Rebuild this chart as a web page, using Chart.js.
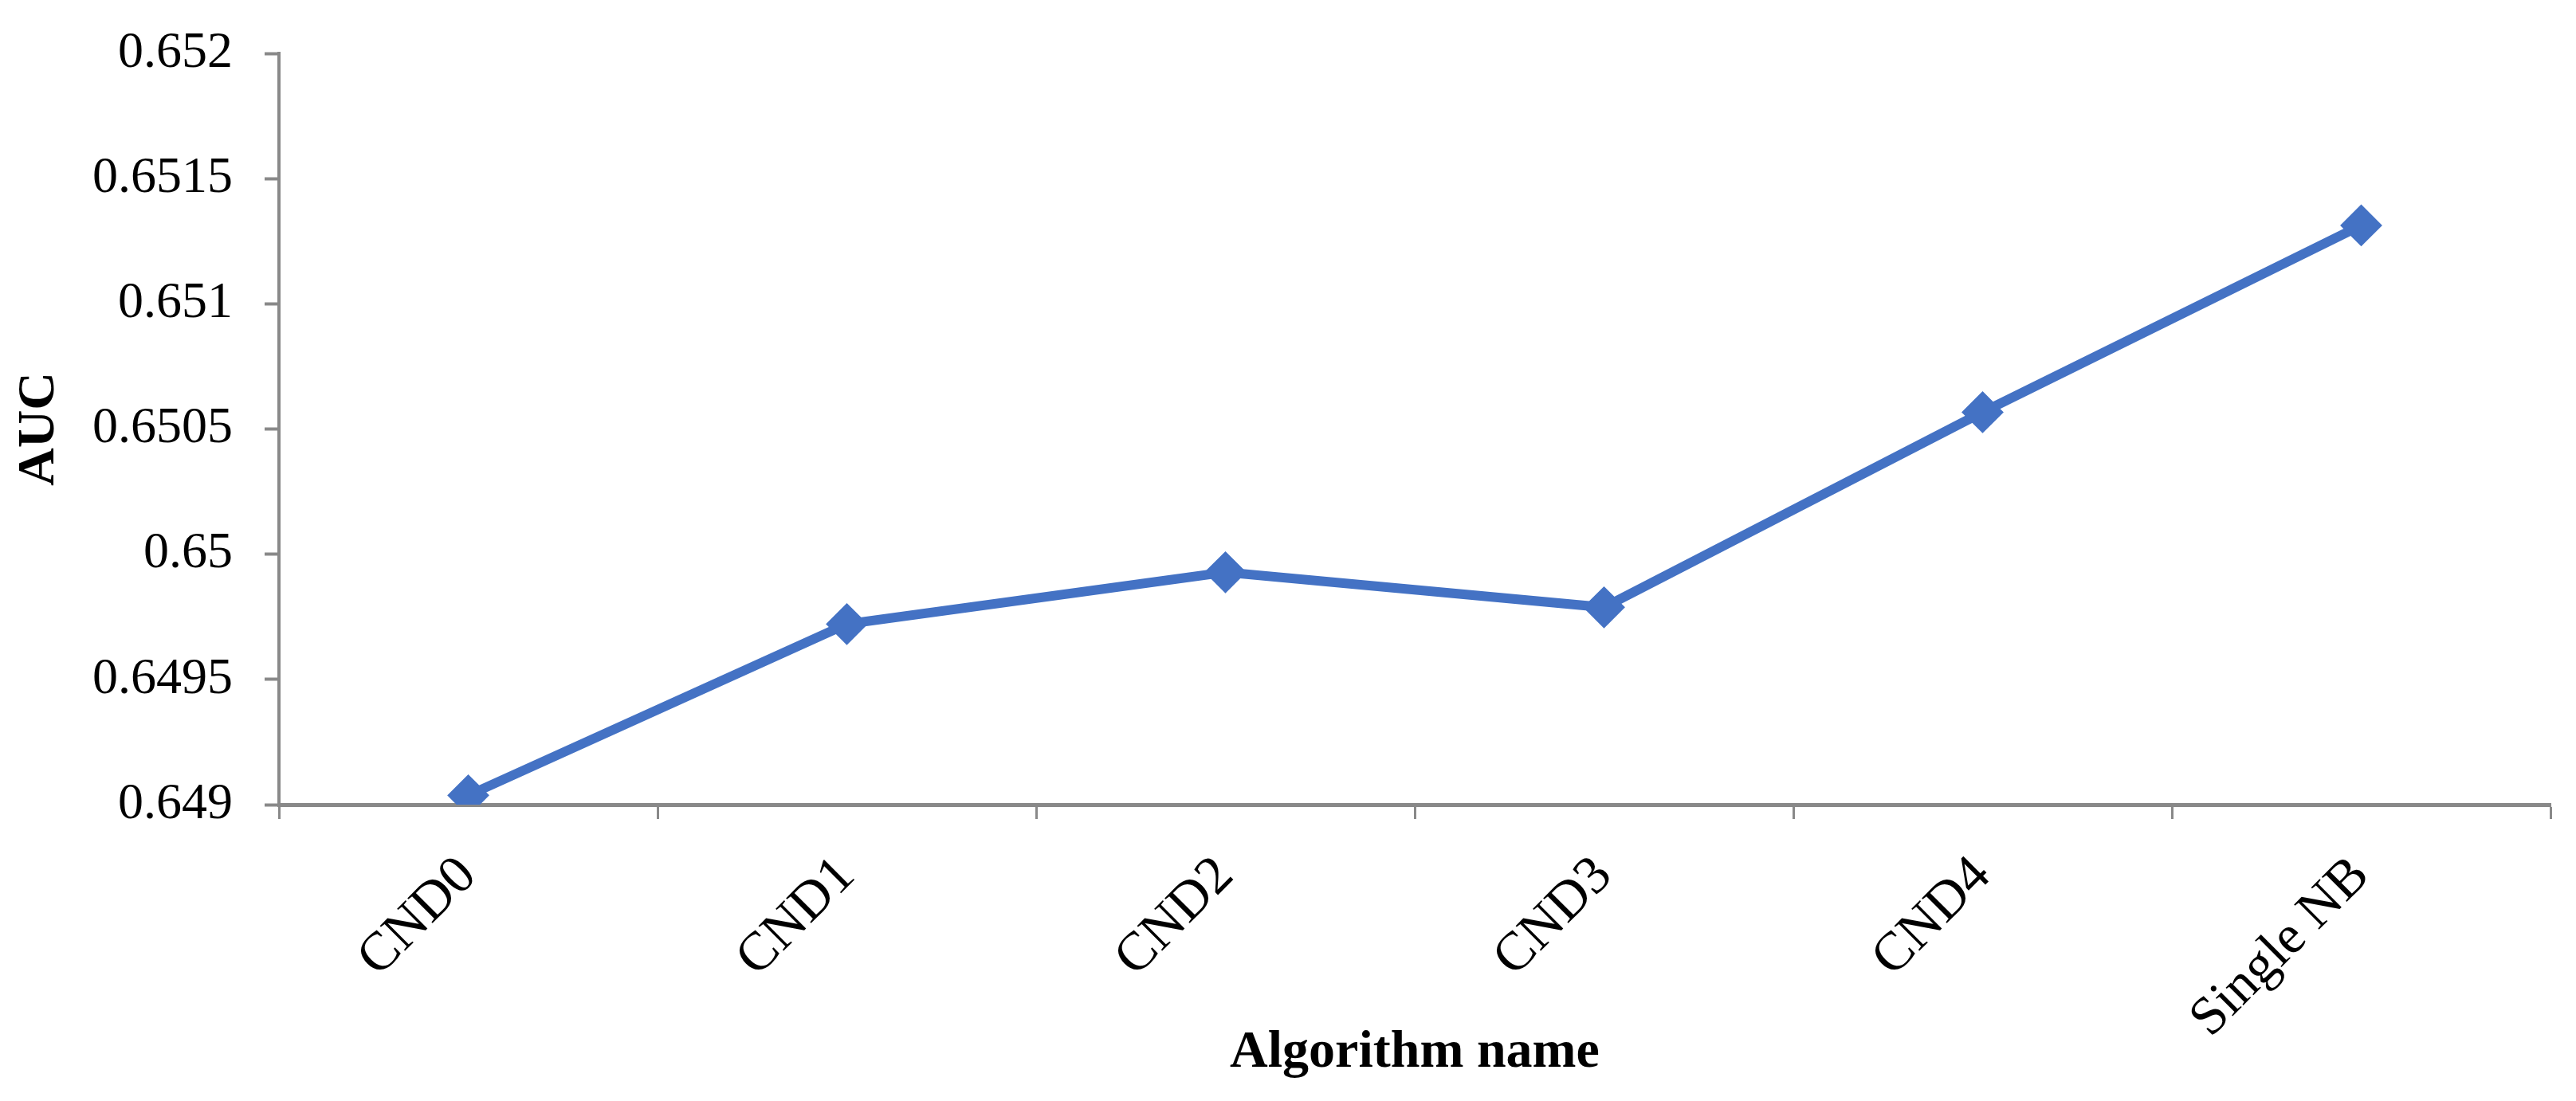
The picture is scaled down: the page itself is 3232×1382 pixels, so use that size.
<!DOCTYPE html>
<html>
<head>
<meta charset="utf-8">
<script src="https://cdn.jsdelivr.net/npm/chart.js@4"></script>
<style>
  html, body { margin: 0; padding: 0; background: #fff; }
  #wrap { width: 3232px; height: 1382px; }
</style>
</head>
<body>
<div id="wrap"><canvas id="aucChart" width="3232" height="1382"></canvas></div>
<script>
const algorithms = ["CND0", "CND1", "CND2", "CND3", "CND4", "Single NB"];
const aucValues = [0.649037, 0.649721, 0.649928, 0.649788, 0.650567, 0.651313];
const yMin = 0.649;
const yMax = 0.652;
const yStep = 0.0005;

const axisGray = "#898989";
const lineBlue = "#4472C4";
const serif = "'Liberation Serif', 'Times New Roman', serif";

const ctx = document.getElementById("aucChart").getContext("2d");

new Chart(ctx, {
  type: "line",
  data: {
    labels: algorithms,
    datasets: [{
      label: "AUC",
      data: aucValues,
      borderColor: lineBlue,
      backgroundColor: lineBlue,
      borderWidth: 12,
      pointStyle: "rectRot",
      pointRadius: 25,
      pointBorderWidth: 2,
      pointBackgroundColor: lineBlue,
      pointBorderColor: lineBlue,
      tension: 0
    }]
  },
  options: {
    responsive: false,
    animation: false,
    devicePixelRatio: 1,
    layout: { padding: { top: 67, right: 32, bottom: 0, left: 0 } },
    plugins: {
      legend: { display: false },
      tooltip: { enabled: false }
    },
    scales: {
      x: {
        offset: true,
        grid: {
          offset: true,
          drawOnChartArea: false,
          drawTicks: true,
          tickLength: 18,
          tickWidth: 3,
          color: axisGray
        },
        border: { color: axisGray, width: 5 },
        ticks: {
          color: "#000",
          font: { family: serif, size: 68 },
          minRotation: 45,
          maxRotation: 45,
          padding: 32
        },
        title: {
          display: true,
          text: "Algorithm name",
          color: "#000",
          font: { family: serif, size: 66, weight: "bold" },
          padding: { top: 0, bottom: 20 }
        },
        afterFit: function(scale) { scale.height = 1382 - 1010; }
      },
      y: {
        min: yMin,
        max: yMax,
        grid: {
          drawOnChartArea: false,
          drawTicks: true,
          tickLength: 18,
          tickWidth: 4,
          color: axisGray
        },
        border: { color: axisGray, width: 4 },
        ticks: {
          stepSize: yStep,
          color: "#000",
          font: { family: serif, size: 64 },
          padding: 40,
          callback: function(v) { return String(Number(v.toFixed(4))); }
        },
        title: {
          display: true,
          text: "AUC",
          color: "#000",
          font: { family: serif, size: 66, weight: "bold" },
          padding: { top: 10, bottom: 0 }
        },
        afterFit: function(scale) {
          scale.width = 350;
          // label padding would otherwise push the plot top down
          scale.paddingTop = 30;
          scale.paddingBottom = 30;
        }
      }
    }
  }
});
</script>
</body>
</html>
